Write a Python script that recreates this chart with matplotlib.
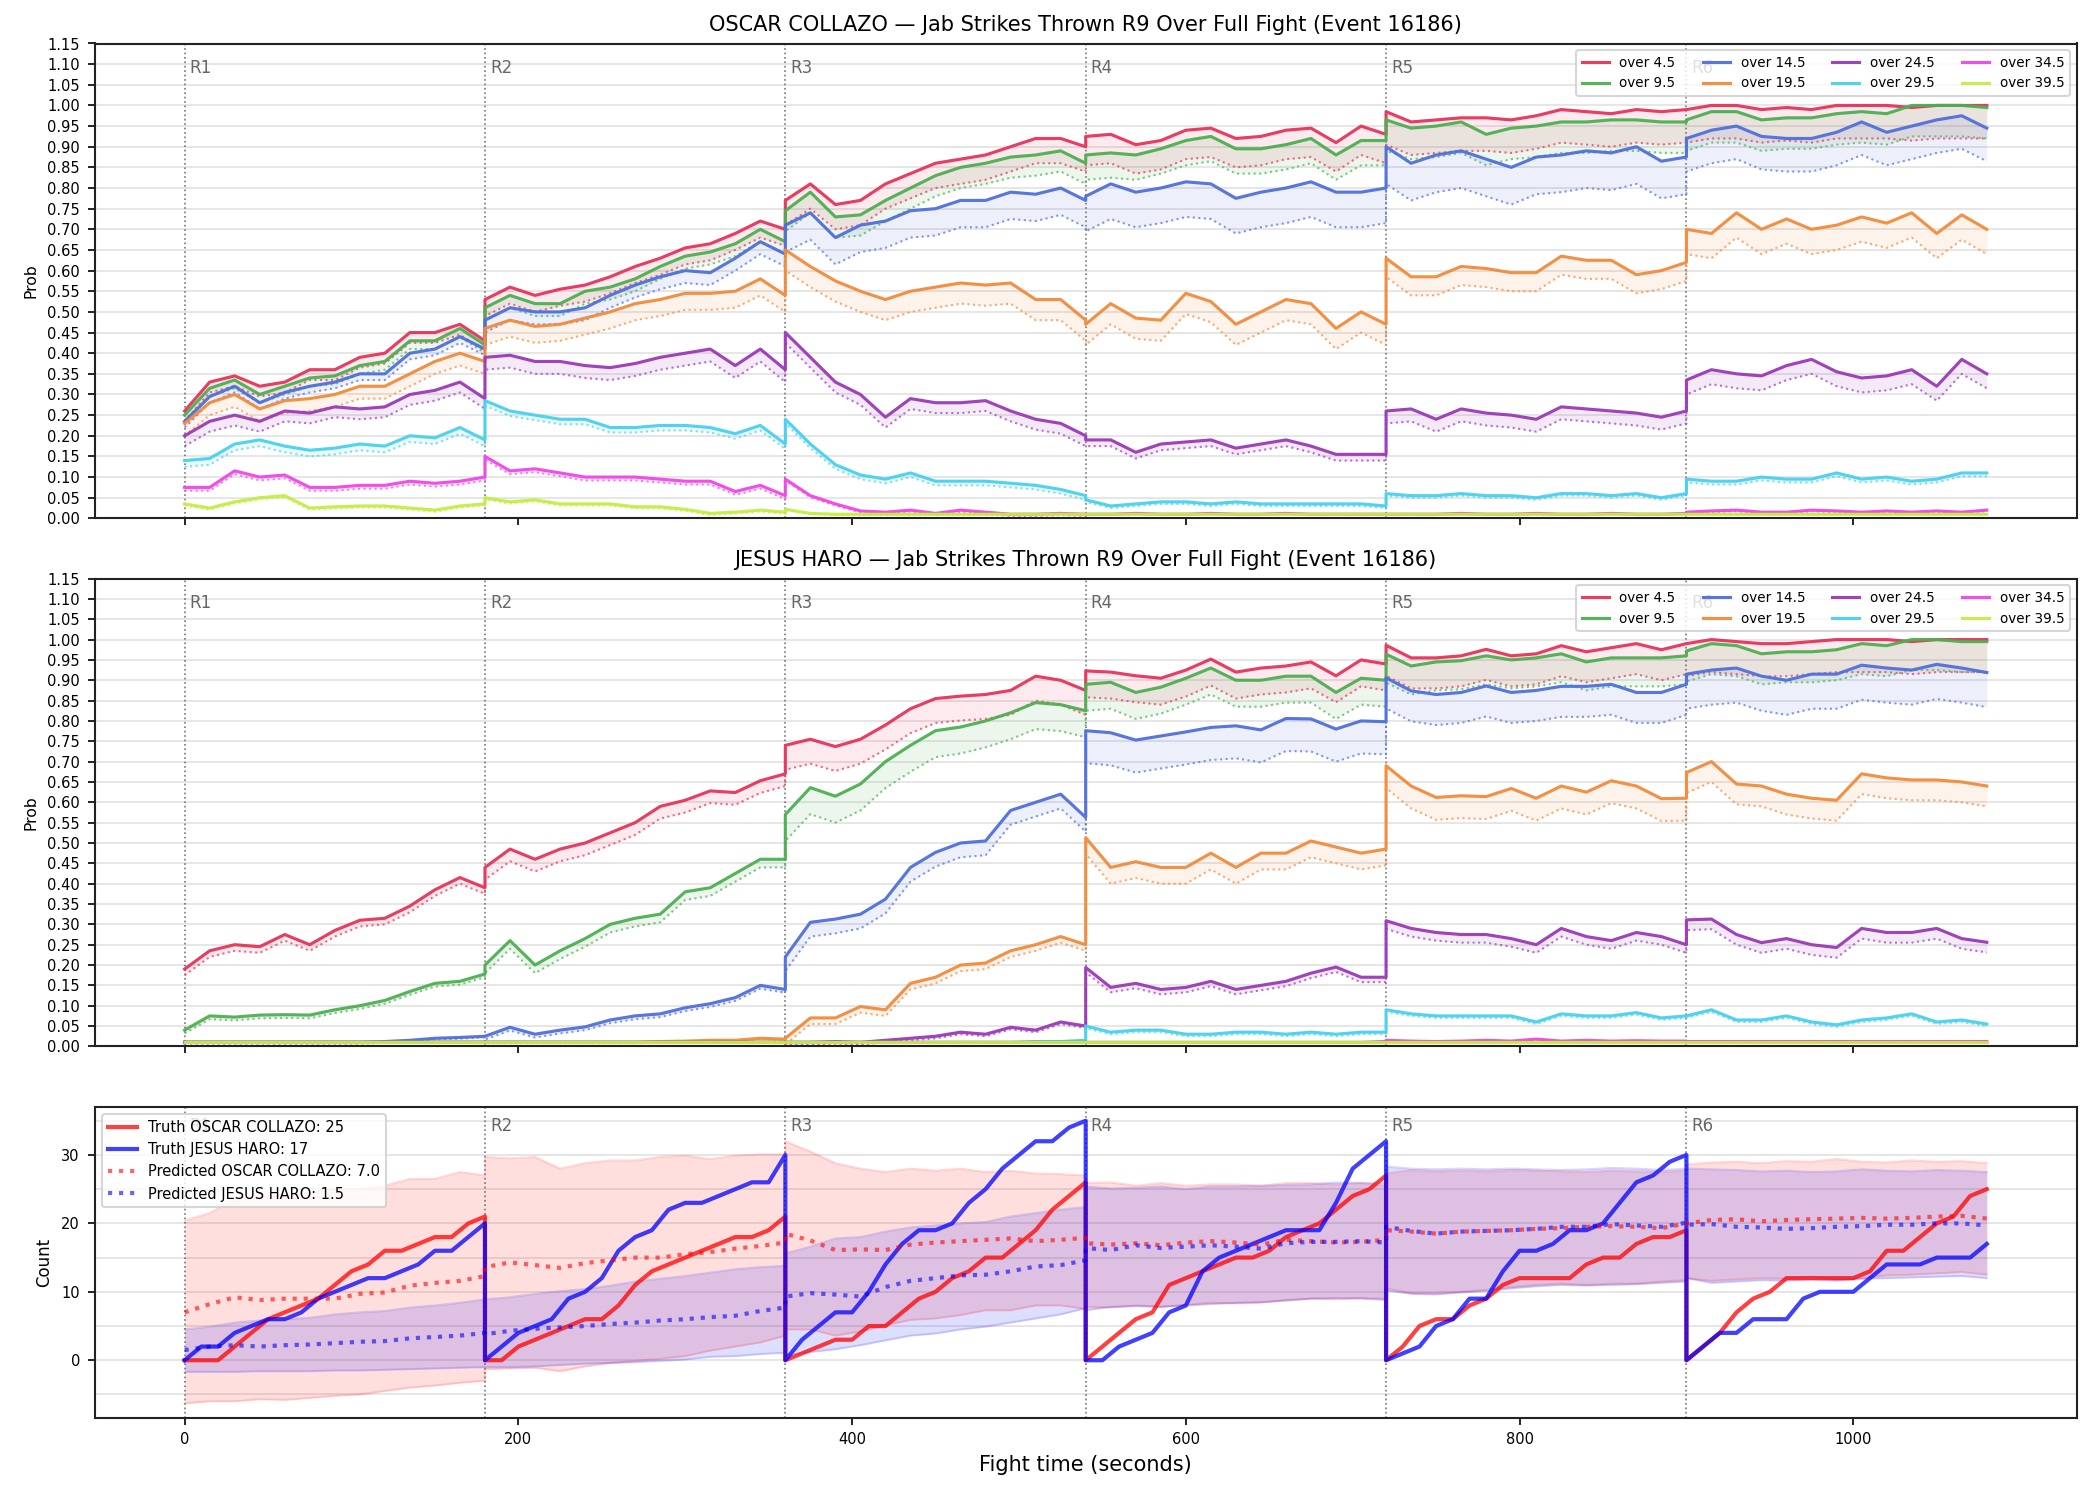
import numpy as np
import matplotlib
matplotlib.use("Agg")
import matplotlib.pyplot as plt
from matplotlib.ticker import MultipleLocator

ROUND_SECONDS = 180
PROB_STEP = 15    # seconds between samples of the probability curves
COUNT_STEP = 10   # seconds between samples of the truth counts

round_names = ["R1", "R2", "R3", "R4", "R5", "R6"]
fighter_a = "OSCAR COLLAZO"
fighter_b = "JESUS HARO"
title_tail = "Jab Strikes Thrown R9 Over Full Fight (Event 16186)"

thresholds = ["over 4.5", "over 9.5", "over 14.5", "over 19.5",
              "over 24.5", "over 29.5", "over 34.5", "over 39.5"]
line_colors = ["#e6335a", "#4caf50", "#4f6fdc", "#f28b3c",
               "#9b39b8", "#48d1f0", "#f046e6", "#c4ec45"]

# ---- OSCAR COLLAZO: solid probability lines, one row per round (t = 0, 15, ..., 180) ----
collazo_45 = [
    [0.26, 0.33, 0.345, 0.32, 0.33, 0.36, 0.36, 0.39, 0.40, 0.45, 0.45, 0.47, 0.43],
    [0.53, 0.56, 0.54, 0.555, 0.565, 0.585, 0.61, 0.63, 0.655, 0.665, 0.69, 0.72, 0.70],
    [0.77, 0.81, 0.76, 0.77, 0.81, 0.835, 0.86, 0.87, 0.88, 0.90, 0.92, 0.92, 0.90],
    [0.925, 0.93, 0.905, 0.915, 0.94, 0.945, 0.92, 0.925, 0.94, 0.945, 0.91, 0.95, 0.93],
    [0.985, 0.96, 0.965, 0.97, 0.97, 0.965, 0.975, 0.99, 0.985, 0.98, 0.99, 0.985, 0.99],
    [0.99, 1.0, 1.0, 0.99, 0.995, 0.99, 1.0, 1.0, 1.0, 0.995, 1.0, 1.0, 1.0],
]
collazo_95 = [
    [0.25, 0.315, 0.335, 0.30, 0.32, 0.34, 0.345, 0.37, 0.38, 0.43, 0.43, 0.46, 0.42],
    [0.51, 0.54, 0.52, 0.52, 0.55, 0.56, 0.58, 0.61, 0.635, 0.645, 0.665, 0.70, 0.67],
    [0.745, 0.79, 0.73, 0.735, 0.77, 0.80, 0.83, 0.85, 0.86, 0.875, 0.88, 0.89, 0.86],
    [0.88, 0.885, 0.88, 0.895, 0.915, 0.925, 0.895, 0.895, 0.905, 0.92, 0.88, 0.915, 0.915],
    [0.965, 0.945, 0.95, 0.96, 0.93, 0.945, 0.95, 0.96, 0.96, 0.965, 0.965, 0.96, 0.96],
    [0.965, 0.985, 0.985, 0.965, 0.97, 0.97, 0.98, 0.985, 0.98, 1.0, 1.0, 1.0, 0.995],
]
collazo_145 = [
    [0.235, 0.295, 0.32, 0.28, 0.305, 0.32, 0.33, 0.35, 0.35, 0.40, 0.41, 0.44, 0.41],
    [0.48, 0.51, 0.50, 0.50, 0.51, 0.54, 0.565, 0.585, 0.60, 0.595, 0.63, 0.67, 0.64],
    [0.71, 0.74, 0.68, 0.71, 0.72, 0.745, 0.75, 0.77, 0.77, 0.79, 0.785, 0.80, 0.77],
    [0.78, 0.81, 0.79, 0.80, 0.815, 0.81, 0.775, 0.79, 0.80, 0.815, 0.79, 0.79, 0.80],
    [0.90, 0.86, 0.88, 0.89, 0.87, 0.85, 0.875, 0.88, 0.89, 0.885, 0.90, 0.865, 0.875],
    [0.92, 0.94, 0.95, 0.925, 0.92, 0.92, 0.935, 0.96, 0.935, 0.95, 0.965, 0.975, 0.945],
]
collazo_195 = [
    [0.23, 0.28, 0.30, 0.265, 0.285, 0.29, 0.30, 0.32, 0.32, 0.35, 0.38, 0.40, 0.38],
    [0.46, 0.48, 0.465, 0.47, 0.485, 0.50, 0.52, 0.53, 0.545, 0.545, 0.55, 0.58, 0.54],
    [0.65, 0.61, 0.575, 0.55, 0.53, 0.55, 0.56, 0.57, 0.565, 0.57, 0.53, 0.53, 0.48],
    [0.47, 0.52, 0.485, 0.48, 0.545, 0.525, 0.47, 0.50, 0.53, 0.52, 0.46, 0.50, 0.47],
    [0.63, 0.585, 0.585, 0.61, 0.605, 0.595, 0.595, 0.635, 0.625, 0.625, 0.59, 0.60, 0.62],
    [0.70, 0.69, 0.74, 0.70, 0.725, 0.70, 0.71, 0.73, 0.715, 0.74, 0.69, 0.735, 0.70],
]
collazo_245 = [
    [0.20, 0.235, 0.25, 0.235, 0.26, 0.255, 0.27, 0.265, 0.27, 0.30, 0.31, 0.33, 0.29],
    [0.39, 0.395, 0.38, 0.38, 0.37, 0.365, 0.375, 0.39, 0.40, 0.41, 0.37, 0.41, 0.36],
    [0.45, 0.39, 0.33, 0.30, 0.245, 0.29, 0.28, 0.28, 0.285, 0.26, 0.24, 0.23, 0.20],
    [0.19, 0.19, 0.16, 0.18, 0.185, 0.19, 0.17, 0.18, 0.19, 0.175, 0.155, 0.155, 0.155],
    [0.26, 0.265, 0.24, 0.265, 0.255, 0.25, 0.24, 0.27, 0.265, 0.26, 0.255, 0.245, 0.26],
    [0.335, 0.36, 0.35, 0.345, 0.37, 0.385, 0.355, 0.34, 0.345, 0.36, 0.32, 0.385, 0.35],
]
collazo_295 = [
    [0.14, 0.145, 0.18, 0.19, 0.175, 0.165, 0.17, 0.18, 0.175, 0.20, 0.195, 0.22, 0.19],
    [0.285, 0.26, 0.25, 0.24, 0.24, 0.22, 0.22, 0.225, 0.225, 0.22, 0.205, 0.225, 0.18],
    [0.24, 0.18, 0.13, 0.105, 0.095, 0.11, 0.09, 0.09, 0.09, 0.085, 0.08, 0.07, 0.055],
    [0.045, 0.03, 0.035, 0.04, 0.04, 0.035, 0.04, 0.035, 0.035, 0.035, 0.035, 0.035, 0.03],
    [0.06, 0.055, 0.055, 0.06, 0.055, 0.055, 0.05, 0.06, 0.06, 0.055, 0.06, 0.05, 0.06],
    [0.095, 0.09, 0.09, 0.10, 0.095, 0.095, 0.11, 0.095, 0.10, 0.09, 0.095, 0.11, 0.11],
]
collazo_345 = [
    [0.075, 0.075, 0.115, 0.10, 0.105, 0.075, 0.075, 0.08, 0.08, 0.09, 0.085, 0.09, 0.10],
    [0.15, 0.115, 0.12, 0.11, 0.10, 0.10, 0.10, 0.095, 0.09, 0.09, 0.065, 0.08, 0.055],
    [0.095, 0.055, 0.035, 0.018, 0.015, 0.02, 0.012, 0.02, 0.015, 0.01, 0.01, 0.012, 0.01],
    [0.01, 0.01, 0.012, 0.01, 0.01, 0.012, 0.01, 0.01, 0.012, 0.01, 0.01, 0.01, 0.01],
    [0.01, 0.01, 0.01, 0.012, 0.01, 0.01, 0.012, 0.01, 0.01, 0.012, 0.01, 0.01, 0.012],
    [0.015, 0.018, 0.02, 0.015, 0.015, 0.02, 0.018, 0.015, 0.018, 0.015, 0.018, 0.015, 0.02],
]
collazo_395 = [
    [0.035, 0.025, 0.04, 0.05, 0.055, 0.025, 0.028, 0.03, 0.03, 0.025, 0.02, 0.03, 0.035],
    [0.05, 0.04, 0.045, 0.035, 0.035, 0.035, 0.028, 0.028, 0.022, 0.012, 0.015, 0.02, 0.015],
    [0.022, 0.012, 0.01, 0.01, 0.01, 0.01, 0.01, 0.01, 0.01, 0.01, 0.01, 0.01, 0.01],
    [0.01, 0.01, 0.01, 0.01, 0.01, 0.01, 0.01, 0.01, 0.01, 0.01, 0.01, 0.01, 0.01],
    [0.01, 0.01, 0.01, 0.01, 0.01, 0.01, 0.01, 0.01, 0.01, 0.01, 0.01, 0.01, 0.01],
    [0.01, 0.01, 0.01, 0.01, 0.01, 0.01, 0.01, 0.01, 0.01, 0.01, 0.01, 0.01, 0.01],
]
# how far the dotted (lower) line sits under the solid line, per round
collazo_gap = [
    [0.025, 0.04, 0.06, 0.07, 0.08, 0.08],
    [0.02, 0.03, 0.05, 0.06, 0.075, 0.075],
    [0.015, 0.03, 0.065, 0.085, 0.09, 0.08],
    [0.03, 0.04, 0.05, 0.05, 0.045, 0.06],
    [0.025, 0.03, 0.025, 0.015, 0.03, 0.035],
    [0.015, 0.012, 0.01, 0.005, 0.005, 0.008],
    [0.008, 0.008, 0.004, 0.002, 0.002, 0.003],
    [0.004, 0.004, 0.002, 0.001, 0.001, 0.001],
]

# ---- JESUS HARO ----
haro_45 = [
    [0.19, 0.235, 0.25, 0.245, 0.275, 0.25, 0.285, 0.31, 0.315, 0.345, 0.385, 0.415, 0.39],
    [0.44, 0.485, 0.46, 0.485, 0.50, 0.525, 0.55, 0.59, 0.605, 0.628, 0.624, 0.653, 0.67],
    [0.74, 0.755, 0.737, 0.755, 0.79, 0.83, 0.855, 0.861, 0.865, 0.875, 0.91, 0.90, 0.875],
    [0.923, 0.92, 0.911, 0.905, 0.925, 0.952, 0.92, 0.93, 0.935, 0.945, 0.911, 0.95, 0.94],
    [0.986, 0.955, 0.955, 0.96, 0.976, 0.96, 0.965, 0.985, 0.97, 0.98, 0.99, 0.975, 0.99],
    [0.99, 1.0, 0.995, 0.99, 0.99, 0.995, 1.0, 1.0, 1.0, 0.995, 1.0, 1.0, 1.0],
]
haro_95 = [
    [0.04, 0.075, 0.072, 0.077, 0.078, 0.077, 0.09, 0.10, 0.113, 0.135, 0.155, 0.16, 0.178],
    [0.20, 0.26, 0.20, 0.235, 0.265, 0.30, 0.315, 0.325, 0.38, 0.39, 0.425, 0.46, 0.46],
    [0.57, 0.636, 0.615, 0.645, 0.70, 0.74, 0.776, 0.785, 0.80, 0.82, 0.845, 0.84, 0.825],
    [0.89, 0.895, 0.87, 0.883, 0.905, 0.93, 0.90, 0.90, 0.91, 0.91, 0.87, 0.905, 0.90],
    [0.964, 0.935, 0.945, 0.948, 0.96, 0.95, 0.955, 0.965, 0.945, 0.955, 0.955, 0.955, 0.96],
    [0.972, 0.99, 0.985, 0.965, 0.97, 0.97, 0.975, 0.99, 0.985, 1.0, 1.0, 0.995, 0.995],
]
haro_145 = [
    [0.01, 0.01, 0.01, 0.01, 0.01, 0.01, 0.01, 0.01, 0.012, 0.015, 0.02, 0.022, 0.025],
    [0.025, 0.047, 0.03, 0.04, 0.048, 0.065, 0.075, 0.08, 0.095, 0.105, 0.12, 0.15, 0.14],
    [0.22, 0.305, 0.313, 0.325, 0.362, 0.44, 0.477, 0.50, 0.505, 0.58, 0.60, 0.62, 0.563],
    [0.776, 0.771, 0.753, 0.763, 0.773, 0.784, 0.788, 0.778, 0.806, 0.805, 0.78, 0.80, 0.798],
    [0.906, 0.874, 0.865, 0.87, 0.886, 0.87, 0.875, 0.885, 0.885, 0.89, 0.87, 0.87, 0.89],
    [0.915, 0.925, 0.93, 0.91, 0.90, 0.915, 0.915, 0.937, 0.93, 0.925, 0.939, 0.93, 0.919],
]
haro_195 = [
    [0.01, 0.01, 0.01, 0.01, 0.01, 0.01, 0.01, 0.01, 0.01, 0.01, 0.01, 0.01, 0.01],
    [0.01, 0.01, 0.01, 0.01, 0.01, 0.01, 0.01, 0.012, 0.013, 0.015, 0.015, 0.02, 0.018],
    [0.02, 0.07, 0.07, 0.098, 0.09, 0.155, 0.17, 0.20, 0.205, 0.235, 0.25, 0.27, 0.25],
    [0.513, 0.44, 0.454, 0.44, 0.44, 0.475, 0.44, 0.475, 0.475, 0.505, 0.49, 0.475, 0.485],
    [0.69, 0.64, 0.612, 0.616, 0.614, 0.634, 0.61, 0.64, 0.625, 0.653, 0.64, 0.609, 0.61],
    [0.673, 0.70, 0.645, 0.64, 0.62, 0.61, 0.605, 0.67, 0.66, 0.655, 0.655, 0.65, 0.64],
]
haro_245 = [
    [0.01, 0.01, 0.01, 0.01, 0.01, 0.01, 0.01, 0.01, 0.01, 0.01, 0.01, 0.01, 0.01],
    [0.01, 0.01, 0.01, 0.01, 0.01, 0.01, 0.01, 0.01, 0.01, 0.01, 0.01, 0.01, 0.01],
    [0.01, 0.01, 0.012, 0.01, 0.015, 0.02, 0.025, 0.035, 0.03, 0.047, 0.04, 0.06, 0.05],
    [0.194, 0.145, 0.155, 0.14, 0.145, 0.16, 0.14, 0.15, 0.16, 0.18, 0.195, 0.17, 0.17],
    [0.309, 0.29, 0.28, 0.275, 0.275, 0.265, 0.25, 0.29, 0.27, 0.26, 0.28, 0.27, 0.25],
    [0.311, 0.313, 0.275, 0.255, 0.265, 0.25, 0.243, 0.29, 0.28, 0.28, 0.29, 0.265, 0.256],
]
haro_295 = [
    [0.01, 0.01, 0.01, 0.01, 0.01, 0.01, 0.01, 0.01, 0.01, 0.01, 0.01, 0.01, 0.01],
    [0.01, 0.01, 0.01, 0.01, 0.01, 0.01, 0.01, 0.01, 0.01, 0.01, 0.01, 0.01, 0.01],
    [0.01, 0.01, 0.01, 0.01, 0.01, 0.01, 0.01, 0.01, 0.01, 0.01, 0.012, 0.012, 0.015],
    [0.05, 0.035, 0.04, 0.04, 0.03, 0.03, 0.035, 0.035, 0.03, 0.035, 0.03, 0.035, 0.035],
    [0.09, 0.08, 0.075, 0.075, 0.075, 0.075, 0.06, 0.08, 0.075, 0.075, 0.083, 0.07, 0.075],
    [0.075, 0.09, 0.065, 0.065, 0.075, 0.06, 0.053, 0.065, 0.07, 0.08, 0.06, 0.065, 0.055],
]
haro_345 = [
    [0.01, 0.01, 0.01, 0.01, 0.01, 0.01, 0.01, 0.01, 0.01, 0.01, 0.01, 0.01, 0.01],
    [0.01, 0.01, 0.01, 0.01, 0.01, 0.01, 0.01, 0.01, 0.01, 0.01, 0.01, 0.01, 0.01],
    [0.01, 0.01, 0.01, 0.01, 0.01, 0.01, 0.01, 0.01, 0.01, 0.01, 0.01, 0.01, 0.01],
    [0.01, 0.01, 0.01, 0.01, 0.01, 0.01, 0.01, 0.01, 0.01, 0.01, 0.01, 0.01, 0.012],
    [0.015, 0.013, 0.012, 0.013, 0.015, 0.013, 0.018, 0.013, 0.015, 0.013, 0.014, 0.013, 0.013],
    [0.012, 0.012, 0.012, 0.012, 0.012, 0.012, 0.012, 0.012, 0.012, 0.012, 0.012, 0.012, 0.012],
]
haro_395 = [
    [0.01, 0.01, 0.01, 0.01, 0.01, 0.01, 0.01, 0.01, 0.01, 0.01, 0.01, 0.01, 0.01],
    [0.01, 0.01, 0.01, 0.01, 0.01, 0.01, 0.01, 0.01, 0.01, 0.01, 0.01, 0.01, 0.01],
    [0.01, 0.01, 0.01, 0.01, 0.01, 0.01, 0.01, 0.01, 0.01, 0.01, 0.01, 0.01, 0.01],
    [0.01, 0.01, 0.01, 0.01, 0.01, 0.01, 0.01, 0.01, 0.01, 0.01, 0.01, 0.01, 0.01],
    [0.01, 0.01, 0.01, 0.01, 0.01, 0.01, 0.01, 0.01, 0.01, 0.01, 0.01, 0.01, 0.01],
    [0.01, 0.01, 0.01, 0.01, 0.01, 0.01, 0.01, 0.01, 0.01, 0.01, 0.01, 0.01, 0.01],
]
haro_gap = [
    [0.015, 0.03, 0.06, 0.065, 0.075, 0.08],
    [0.008, 0.02, 0.065, 0.065, 0.07, 0.075],
    [0.003, 0.008, 0.035, 0.08, 0.075, 0.085],
    [0.0, 0.002, 0.015, 0.04, 0.055, 0.05],
    [0.0, 0.0, 0.005, 0.012, 0.02, 0.025],
    [0.0, 0.0, 0.0, 0.005, 0.005, 0.005],
    [0.0, 0.0, 0.0, 0.0, 0.002, 0.002],
    [0.0, 0.0, 0.0, 0.0, 0.0, 0.0],
]

# ---- counts: truth (t = 0, 10, ..., 180 per round) ----
truth_collazo = [
    [0, 0, 0, 2, 4, 6, 7, 8, 9, 11, 13, 14, 16, 16, 17, 18, 18, 20, 21],
    [0, 0, 2, 3, 4, 5, 6, 6, 8, 11, 13, 14, 15, 16, 17, 18, 18, 19, 21],
    [0, 1, 2, 3, 3, 5, 5, 7, 9, 10, 12, 13, 15, 15, 17, 19, 22, 24, 26],
    [0, 2, 4, 6, 7, 11, 12, 13, 14, 15, 15, 16, 18, 19, 20, 22, 24, 25, 27],
    [0, 2, 5, 6, 6, 8, 9, 11, 12, 12, 12, 12, 14, 15, 15, 17, 18, 18, 19],
    [0, 2, 4, 7, 9, 10, 12, 12, 12, 12, 12, 13, 16, 16, 18, 20, 21, 24, 25],
]
truth_haro = [
    [0, 2, 2, 4, 5, 6, 6, 7, 9, 10, 11, 12, 12, 13, 14, 16, 16, 18, 20],
    [0, 2, 4, 5, 6, 9, 10, 12, 16, 18, 19, 22, 23, 23, 24, 25, 26, 26, 30],
    [0, 3, 5, 7, 7, 10, 14, 17, 19, 19, 20, 23, 25, 28, 30, 32, 32, 34, 35],
    [0, 0, 2, 3, 4, 7, 8, 13, 15, 16, 17, 18, 19, 19, 19, 23, 28, 30, 32],
    [0, 1, 2, 5, 6, 9, 9, 13, 16, 16, 17, 19, 19, 20, 23, 26, 27, 29, 30],
    [0, 2, 4, 4, 6, 6, 6, 9, 10, 10, 10, 12, 14, 14, 14, 15, 15, 15, 17],
]

# ---- counts: predicted mean and band (t = 0, 15, ..., 180 per round) ----
pred_collazo = [
    [7.0, 8.2, 9.2, 8.8, 9.0, 9.0, 9.0, 9.7, 9.9, 10.9, 11.3, 11.6, 12.3],
    [13.6, 14.3, 13.9, 13.5, 14.2, 14.6, 15.0, 15.0, 15.5, 15.8, 16.3, 16.7, 17.2],
    [18.5, 17.5, 16.1, 16.2, 16.1, 16.9, 17.2, 17.4, 17.6, 17.8, 17.4, 17.6, 17.9],
    [17.1, 16.9, 17.1, 16.8, 17.2, 17.4, 17.2, 16.9, 17.6, 17.4, 17.2, 17.3, 17.6],
    [19.0, 18.8, 18.5, 18.8, 18.9, 19.0, 19.2, 19.3, 19.5, 19.6, 19.5, 19.3, 20.0],
    [20.0, 20.5, 20.6, 20.3, 20.5, 20.6, 20.7, 20.8, 20.7, 20.8, 21.0, 21.1, 20.7],
]
pred_haro = [
    [1.5, 2.0, 2.2, 2.0, 2.2, 2.3, 2.5, 2.7, 2.8, 3.2, 3.4, 3.6, 4.0],
    [3.8, 4.3, 4.6, 4.8, 5.0, 5.3, 5.5, 5.8, 6.0, 6.3, 6.5, 7.2, 7.7],
    [9.3, 9.8, 9.6, 9.3, 10.7, 11.6, 12.0, 12.4, 12.5, 13.0, 13.7, 13.9, 14.6],
    [16.4, 16.1, 16.8, 16.4, 16.6, 16.8, 16.6, 16.3, 17.1, 17.3, 17.3, 17.4, 17.2],
    [19.5, 18.9, 18.5, 18.8, 18.9, 19.0, 19.2, 19.5, 19.5, 19.9, 19.7, 19.5, 20.1],
    [19.8, 19.9, 19.5, 19.4, 19.2, 19.3, 19.5, 19.6, 19.8, 19.8, 20.0, 20.0, 19.7],
]
band_collazo_hi = [
    [20.4, 21.5, 23.5, 24.0, 24.0, 24.5, 25.0, 25.0, 25.5, 26.5, 26.5, 27.5, 27.0],
    [29.7, 29.5, 29.7, 28.0, 28.8, 29.2, 29.2, 29.7, 29.9, 29.4, 29.9, 30.1, 30.1],
    [32.0, 30.5, 28.8, 28.0, 27.5, 28.0, 27.7, 28.0, 27.5, 27.7, 27.3, 27.2, 27.0],
    [25.9, 26.0, 25.5, 25.9, 25.5, 25.7, 25.7, 25.5, 25.9, 25.9, 25.7, 25.9, 25.5],
    [27.3, 27.8, 27.6, 27.7, 27.6, 27.8, 27.7, 27.6, 27.5, 27.7, 27.6, 27.5, 27.7],
    [28.6, 28.9, 29.0, 28.8, 29.1, 29.0, 29.4, 29.0, 28.9, 29.2, 29.0, 29.1, 28.8],
]
band_collazo_lo = [
    [-6.3, -6.0, -6.0, -5.7, -5.8, -5.5, -5.2, -5.0, -4.5, -4.0, -3.7, -3.3, -3.0],
    [-1.3, -1.2, -1.1, -1.6, -0.9, -0.4, -0.1, 0.2, 0.6, 1.4, 2.0, 2.6, 3.6],
    [4.5, 4.5, 3.6, 4.2, 5.1, 5.9, 6.1, 6.6, 7.3, 7.3, 8.0, 8.0, 7.5],
    [7.8, 7.7, 8.0, 7.8, 8.1, 8.4, 8.3, 8.4, 8.8, 9.0, 8.9, 9.1, 9.0],
    [10.5, 9.8, 9.8, 10.0, 10.3, 10.7, 11.0, 11.2, 11.0, 11.2, 11.2, 11.5, 11.7],
    [12.0, 11.6, 11.8, 12.0, 11.9, 12.2, 11.8, 12.0, 12.4, 12.5, 12.7, 12.9, 12.5],
]
band_haro_hi = [
    [4.5, 4.9, 5.5, 5.8, 6.0, 6.2, 6.7, 7.0, 7.2, 7.7, 8.0, 8.4, 8.9],
    [8.9, 9.2, 9.7, 10.1, 10.4, 10.9, 11.5, 11.9, 12.3, 12.8, 13.3, 13.6, 13.8],
    [15.6, 16.6, 17.8, 18.0, 18.8, 19.4, 19.7, 20.0, 20.2, 21.0, 21.5, 22.0, 22.4],
    [25.4, 25.1, 25.2, 25.4, 25.0, 25.4, 25.4, 25.5, 25.6, 25.7, 26.0, 25.9, 25.9],
    [28.3, 28.0, 27.9, 28.0, 27.9, 28.0, 27.9, 27.8, 27.9, 28.1, 28.0, 27.8, 28.0],
    [28.0, 27.9, 27.8, 27.6, 27.7, 27.5, 27.6, 27.9, 27.7, 27.6, 27.8, 27.7, 27.5],
]
band_haro_lo = [
    [-1.7, -1.7, -1.7, -1.6, -1.6, -1.6, -1.5, -1.5, -1.4, -1.3, -1.2, -1.1, -1.0],
    [-1.0, -1.0, -0.9, -0.7, -0.5, -0.4, -0.3, -0.1, 0.1, 0.5, 0.6, 0.9, 1.1],
    [0.7, 1.2, 1.6, 2.2, 2.9, 3.6, 3.9, 4.5, 4.9, 5.5, 6.1, 6.7, 7.6],
    [7.3, 7.8, 7.9, 7.8, 8.0, 8.2, 8.4, 8.5, 8.7, 9.0, 9.1, 9.0, 8.8],
    [10.2, 9.7, 9.6, 9.9, 10.1, 10.5, 10.8, 11.0, 10.9, 11.0, 11.1, 11.3, 11.5],
    [12.0, 11.3, 11.5, 11.7, 11.6, 11.8, 11.6, 11.9, 12.0, 12.1, 12.2, 12.3, 12.0],
]

collazo_lines = [collazo_45, collazo_95, collazo_145, collazo_195,
                 collazo_245, collazo_295, collazo_345, collazo_395]
haro_lines = [haro_45, haro_95, haro_145, haro_195,
              haro_245, haro_295, haro_345, haro_395]


def round_times(step):
    return np.concatenate([r * ROUND_SECONDS + np.arange(0, ROUND_SECONDS + 1, step)
                           for r in range(len(round_names))])


def join(rounds):
    return np.concatenate([np.asarray(v, dtype=float) for v in rounds])


def mark_rounds(ax):
    for i, name in enumerate(round_names):
        x = i * ROUND_SECONDS
        ax.axvline(x, color="#555555", ls=":", lw=0.8, alpha=0.8, zorder=1)
        ax.text(x + 3, 0.968, name, transform=ax.get_xaxis_transform(),
                ha="left", va="top", fontsize=8, color="#666666", zorder=1)


def style_axes(ax):
    ax.grid(axis="y", which="both", color="#e2e2e2", lw=0.8)
    ax.set_axisbelow(True)
    ax.tick_params(labelsize=7)
    for spine in ax.spines.values():
        spine.set_linewidth(1.0)
        spine.set_color("#222222")


def draw_prob_panel(ax, lines, gaps, fighter):
    t = round_times(PROB_STEP)
    for name, color, rounds, gap in zip(thresholds, line_colors, lines, gaps):
        solid = join(rounds)
        dotted = np.concatenate([np.asarray(v, dtype=float) - g for v, g in zip(rounds, gap)])
        ax.fill_between(t, dotted, solid, color=color, alpha=0.1, lw=0)
        ax.plot(t, dotted, color=color, lw=1.0, ls=":", alpha=0.7)
        ax.plot(t, solid, color=color, lw=1.5, alpha=0.95, label=name)
    mark_rounds(ax)
    ax.set_ylim(0, 1.15)
    ax.yaxis.set_major_locator(MultipleLocator(0.05))
    ax.set_ylabel("Prob", fontsize=7.5)
    ax.set_title(f"{fighter} \u2014 {title_tail}", fontsize=10)
    style_axes(ax)
    leg = ax.legend(ncol=4, loc="upper right", fontsize=6.5, framealpha=0.8)
    leg.set_zorder(5)


fig = plt.figure(figsize=(14, 10), dpi=150)
gs = fig.add_gridspec(3, 1, height_ratios=[475, 468, 311], hspace=0.144,
                      left=0.045, right=0.989, top=0.971, bottom=0.055)
ax_a = fig.add_subplot(gs[0])
ax_b = fig.add_subplot(gs[1], sharex=ax_a)
ax_c = fig.add_subplot(gs[2], sharex=ax_a)

draw_prob_panel(ax_a, collazo_lines, collazo_gap, fighter_a)
draw_prob_panel(ax_b, haro_lines, haro_gap, fighter_b)
ax_a.tick_params(labelbottom=False)
ax_b.tick_params(labelbottom=False)

# bottom panel: truth counts vs predicted
tp = round_times(PROB_STEP)
tc = round_times(COUNT_STEP)
ax_c.fill_between(tp, join(band_collazo_lo), join(band_collazo_hi), color="red", alpha=0.13, lw=0)
ax_c.plot(tp, join(band_collazo_hi), color="red", alpha=0.15, lw=1)
ax_c.plot(tp, join(band_collazo_lo), color="red", alpha=0.15, lw=1)
ax_c.fill_between(tp, join(band_haro_lo), join(band_haro_hi), color="blue", alpha=0.13, lw=0)
ax_c.plot(tp, join(band_haro_hi), color="blue", alpha=0.15, lw=1)
ax_c.plot(tp, join(band_haro_lo), color="blue", alpha=0.15, lw=1)

ax_c.plot(tc, join(truth_collazo), color="red", lw=2, alpha=0.75,
          label=f"Truth {fighter_a}: {truth_collazo[-1][-1]}")
ax_c.plot(tc, join(truth_haro), color="blue", lw=2, alpha=0.75,
          label=f"Truth {fighter_b}: {truth_haro[-1][-1]}")
ax_c.plot(tp, join(pred_collazo), color="red", lw=2, ls=":", alpha=0.6,
          label=f"Predicted {fighter_a}: {pred_collazo[0][0]:.1f}")
ax_c.plot(tp, join(pred_haro), color="blue", lw=2, ls=":", alpha=0.6,
          label=f"Predicted {fighter_b}: {pred_haro[0][0]:.1f}")
mark_rounds(ax_c)
ax_c.yaxis.set_major_locator(MultipleLocator(10))
ax_c.yaxis.set_minor_locator(MultipleLocator(5))
ax_c.tick_params(which="minor", length=0)
style_axes(ax_c)
ax_c.set_ylabel("Count", fontsize=8)
ax_c.set_xlabel("Fight time (seconds)", fontsize=10)
leg = ax_c.legend(loc="upper left", fontsize=7, framealpha=0.8)
leg.set_zorder(5)

fig.savefig("out.png", dpi=150)
